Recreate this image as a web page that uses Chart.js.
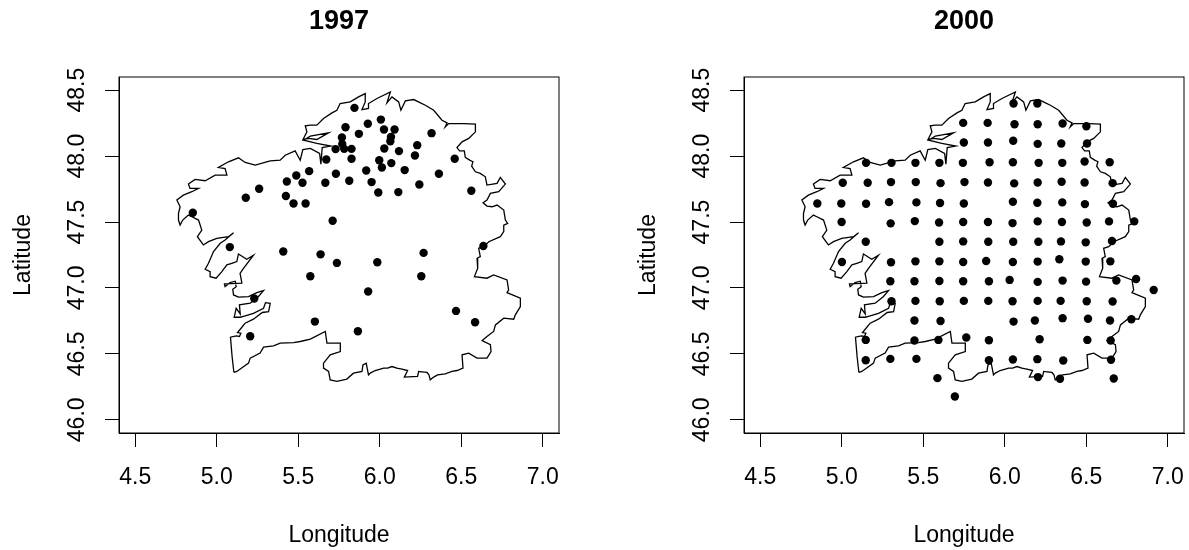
<!DOCTYPE html>
<html>
<head>
<meta charset="utf-8">
<script src="https://cdn.jsdelivr.net/npm/chart.js@4"></script>
<style>
  html, body { margin: 0; padding: 0; background: #fff; }
  .panel { position: absolute; top: 0; height: 550px; }
  #left { left: 0; width: 564px; }
  #right { left: 625px; width: 564px; }
</style>
</head>
<body>
<div class="panel" id="left"><canvas id="map1997"></canvas></div>
<div class="panel" id="right"><canvas id="map2000"></canvas></div>
<script>
const lon1997 = [4.853,5.178,5.260,5.430,5.488,5.526,5.567,5.424,5.471,5.545,5.666,5.731,5.672,5.729,5.711,5.768,5.080,
  5.845,6.007,5.927,5.790,6.026,6.091,5.872,6.318,6.069,6.065,5.770,5.782,5.827,6.028,6.230,6.118,6.216,5.827,5.997,6.071,6.013,6.460,5.917,6.153,6.363,5.813,5.950,6.243,5.991,6.114,6.562,6.636,
  5.408,5.637,5.737,5.574,5.230,5.205,5.602,5.985,6.269,6.255,5.929,6.468,6.585,5.866];
const lat1997 = [47.570,47.684,47.752,47.808,47.853,47.798,47.886,47.697,47.641,47.641,47.798,47.866,47.974,48.053,47.510,48.141,47.310,
  48.366,48.277,48.245,48.219,48.202,48.202,48.169,48.174,48.146,48.113,48.091,48.055,48.055,48.058,48.083,48.038,48.005,47.980,47.969,47.947,47.914,47.980,47.891,47.894,47.866,47.813,47.803,47.785,47.724,47.727,47.737,47.318,
  47.276,47.255,47.190,47.089,46.920,46.634,46.745,47.195,47.266,47.089,46.973,46.826,46.740,46.672];

const lon2000 = [5.149,5.305,5.452,5.599,5.743,5.745,5.749,5.006,5.159,5.302,5.454,5.606,5.753,4.850,4.997,5.149,5.290,5.458,5.603,5.749,4.999,5.300,5.448,5.597,5.745,5.147,5.599,5.745,
  6.054,6.200,5.895,6.060,6.202,6.355,6.501,5.897,6.052,6.202,6.347,6.505,5.907,6.050,6.208,6.353,6.490,6.644,5.897,6.058,6.202,6.349,6.490,6.662,6.050,6.200,6.353,6.492,6.664,5.897,6.048,6.202,6.351,6.503,6.640,6.795,5.899,6.052,6.206,6.345,6.497,6.658,
  5.001,5.302,5.452,5.599,5.745,5.298,5.446,5.599,5.745,5.305,5.452,5.601,5.749,5.446,5.606,5.147,5.446,5.593,5.764,5.147,5.298,5.458,5.587,5.694,
  5.886,6.050,6.202,6.335,6.497,6.648,5.903,6.030,6.202,6.355,6.499,6.685,6.806,6.914,5.899,6.048,6.202,6.343,6.503,6.662,6.054,6.185,6.355,6.511,6.646,6.777,5.903,6.214,6.507,6.650,5.903,6.050,6.200,6.359,6.652,6.204,6.339,6.669];
const lat2000 = [47.949,47.949,47.949,47.949,47.949,48.252,48.103,47.798,47.798,47.803,47.803,47.795,47.803,47.641,47.641,47.639,47.651,47.649,47.644,47.641,47.500,47.490,47.507,47.497,47.500,47.351,47.351,47.353,
  48.399,48.399,48.252,48.242,48.242,48.247,48.227,48.103,48.116,48.093,48.096,48.096,47.954,47.954,47.949,47.949,47.959,47.954,47.800,47.793,47.800,47.805,47.800,47.795,47.654,47.646,47.649,47.636,47.639,47.500,47.492,47.505,47.500,47.497,47.505,47.505,47.351,47.351,47.351,47.353,47.346,47.356,
  47.197,47.195,47.202,47.202,47.197,47.051,47.051,47.053,47.051,46.899,46.902,46.899,46.902,46.753,46.750,46.606,46.601,46.606,46.624,46.452,46.462,46.462,46.316,46.177,
  47.205,47.197,47.200,47.218,47.200,47.202,47.051,47.061,47.046,47.056,47.048,47.056,47.068,46.985,46.902,46.899,46.902,46.902,46.899,46.897,46.745,46.753,46.771,46.766,46.753,46.763,46.604,46.611,46.606,46.601,46.452,46.457,46.460,46.450,46.455,46.324,46.311,46.313];

const outlineLon = [5.105,5.094,5.084,5.119,5.139,5.148,5.127,5.154,5.174,5.225,5.279,5.318,5.328,5.299,5.287,5.225,5.174,5.144,5.107,5.119,5.144,5.139,5.205,5.256,5.287,5.246,5.195,5.133,5.103,5.098,5.119,5.113,5.082,5.051,5.047,5.154,5.143,5.164,5.225,5.184,5.133,5.123,5.092,5.062,5.031,4.996,4.959,4.959,4.929,4.949,4.980,5.021,5.051,5.103,5.072,5.000,4.949,4.918,4.881,4.908,4.888,4.847,4.826,4.791,4.775,4.765,4.765,4.775,4.755,4.795,4.847,4.888,4.836,4.826,4.867,4.929,4.990,5.062,5.051,5.010,5.072,5.133,5.174,5.236,5.328,5.389,5.420,5.481,5.512,5.528,5.574,5.631,5.639,5.647,5.699,5.614,5.533,5.574,5.686,5.614,5.563,5.529,5.553,5.543,5.574,5.614,5.655,5.707,5.737,5.757,5.819,5.870,5.911,5.911,5.891,5.931,5.931,5.983,6.065,6.044,6.075,6.116,6.130,6.157,6.208,6.280,6.331,6.382,6.413,6.402,6.423,6.515,6.587,6.587,6.546,6.505,6.474,6.490,6.519,6.525,6.552,6.572,6.564,6.587,6.617,6.648,6.658,6.720,6.740,6.771,6.730,6.679,6.658,6.634,6.658,6.689,6.720,6.761,6.771,6.785,6.761,6.761,6.740,6.669,6.638,6.607,6.617,6.597,6.601,6.581,6.658,6.699,6.781,6.791,6.781,6.863,6.863,6.832,6.822,6.761,6.710,6.699,6.658,6.628,6.679,6.683,6.658,6.597,6.546,6.505,6.511,6.474,6.443,6.402,6.355,6.331,6.310,6.302,6.290,6.259,6.239,6.232,6.151,6.171,6.136,6.105,6.075,6.048,6.024,5.972,5.942,5.931,5.917,5.897,5.891,5.839,5.798,5.737,5.696,5.686,5.655,5.655,5.696,5.758,5.758,5.676,5.666,5.574,5.512,5.471,5.389,5.348,5.287,5.266,5.205,5.195,5.123,5.105];
const outlineLat = [46.359,46.480,46.627,46.637,46.632,46.657,46.662,46.702,46.733,46.763,46.814,46.821,46.884,46.889,46.846,46.808,46.788,46.778,46.778,46.846,46.803,46.872,46.884,46.935,46.980,46.965,46.935,46.930,46.947,46.990,47.010,47.051,47.041,47.010,47.031,47.036,47.111,47.149,47.248,47.218,47.258,47.200,47.187,47.175,47.124,47.074,47.086,47.124,47.142,47.187,47.276,47.339,47.363,47.419,47.389,47.376,47.351,47.326,47.389,47.439,47.515,47.540,47.553,47.515,47.477,47.515,47.566,47.616,47.667,47.704,47.730,47.755,47.755,47.788,47.823,47.813,47.856,47.856,47.906,47.914,47.957,47.987,47.952,47.932,47.964,47.969,48.007,48.040,47.969,48.050,48.058,48.020,47.939,48.065,48.076,48.096,48.121,48.151,48.177,48.126,48.134,48.126,48.184,48.230,48.235,48.235,48.285,48.328,48.348,48.399,48.411,48.449,48.474,48.411,48.353,48.361,48.399,48.437,48.487,48.404,48.449,48.411,48.348,48.419,48.429,48.386,48.348,48.272,48.252,48.222,48.247,48.247,48.242,48.184,48.134,48.108,48.065,48.040,48.040,47.990,47.970,47.957,47.924,47.881,47.869,47.843,47.780,47.793,47.838,47.788,47.730,47.717,47.667,47.646,47.621,47.616,47.629,47.591,47.515,47.490,47.477,47.427,47.389,47.351,47.313,47.301,47.238,47.225,47.149,47.086,47.074,47.099,47.061,46.985,46.965,46.922,46.859,46.796,46.763,46.771,46.720,46.670,46.632,46.601,46.569,46.518,46.468,46.468,46.506,46.493,46.392,46.374,46.367,46.349,46.341,46.324,46.303,46.341,46.359,46.364,46.367,46.329,46.324,46.374,46.384,46.392,46.404,46.392,46.392,46.374,46.354,46.341,46.430,46.417,46.367,46.354,46.309,46.291,46.303,46.367,46.392,46.430,46.493,46.518,46.581,46.581,46.670,46.612,46.594,46.586,46.581,46.561,46.551,46.506,46.468,46.430,46.367,46.359];

const xTicks = [4.5, 5.0, 5.5, 6.0, 6.5, 7.0];
const yTicks = [46.0, 46.5, 47.0, 47.5, 48.0, 48.5];

const fuente = { family: "'Liberation Sans', Arial, sans-serif", size: 23 };

// caja completa como en plot() de R
const caja = {
  id: "caja",
  afterDraw(chart) {
    const { ctx, chartArea: a } = chart;
    ctx.save();
    ctx.strokeStyle = "#000";
    ctx.lineWidth = 1;
    ctx.strokeRect(a.left, a.top, a.right - a.left, a.bottom - a.top);
    ctx.restore();
  },
};

const zip = (xs, ys) => xs.map((x, i) => ({ x: x, y: ys[i] }));

const mapa = (idGrafico, titulo, lons, lats) => {
  const config = {
    type: "scatter",
    data: {
      datasets: [
        {
          data: zip(outlineLon, outlineLat),
          showLine: true,
          borderColor: "#000",
          borderWidth: 1.3,
          pointRadius: 0,
          tension: 0,
        },
        {
          data: zip(lons, lats),
          showLine: false,
          backgroundColor: "#000",
          borderWidth: 0,
          pointRadius: 4.2,
        },
      ],
    },
    options: {
      responsive: true,
      maintainAspectRatio: false,
      animation: false,
      layout: { padding: { right: 5 } },
      plugins: {
        legend: { display: false },
        tooltip: { enabled: false },
        title: {
          display: true,
          text: titulo,
          fullSize: false,
          color: "#000",
          font: { ...fuente, size: 27, weight: "bold" },
          padding: { top: 5, bottom: 39.6 },
        },
      },
      scales: {
        x: {
          type: "linear",
          min: 4.4,
          max: 7.1,
          afterBuildTicks: (s) => { s.ticks = xTicks.map((v) => ({ value: v })); },
          afterFit: (s) => { s.height = 117; s.paddingLeft = 0; s.paddingRight = 0; },
          grid: { drawOnChartArea: false, color: "#000", tickLength: 14, tickColor: "#000" },
          border: { color: "#000" },
          ticks: { color: "#000", font: fuente, maxRotation: 0, padding: 17, callback: (v) => v.toFixed(1) },
          title: { display: true, text: "Longitude", color: "#000", font: fuente, padding: { top: 30, bottom: 1 } },
        },
        y: {
          type: "linear",
          min: 45.9,
          max: 48.6,
          afterBuildTicks: (s) => { s.ticks = yTicks.map((v) => ({ value: v })); },
          afterFit: (s) => { s.width = 119; s.paddingTop = 0; s.paddingBottom = 0; },
          grid: { drawOnChartArea: false, color: "#000", tickLength: 14, tickColor: "#000" },
          border: { color: "#000" },
          ticks: { color: "#000", font: fuente, minRotation: 90, maxRotation: 90, crossAlign: "center", padding: 5, callback: (v) => v.toFixed(1) },
          title: { display: true, text: "Latitude", color: "#000", font: fuente, padding: { top: 10, bottom: 0 } },
        },
      },
    },
    plugins: [caja],
  };
  return new Chart(document.getElementById(idGrafico), config);
};

mapa("map1997", "1997", lon1997, lat1997);
mapa("map2000", "2000", lon2000, lat2000);
</script>
</body>
</html>
